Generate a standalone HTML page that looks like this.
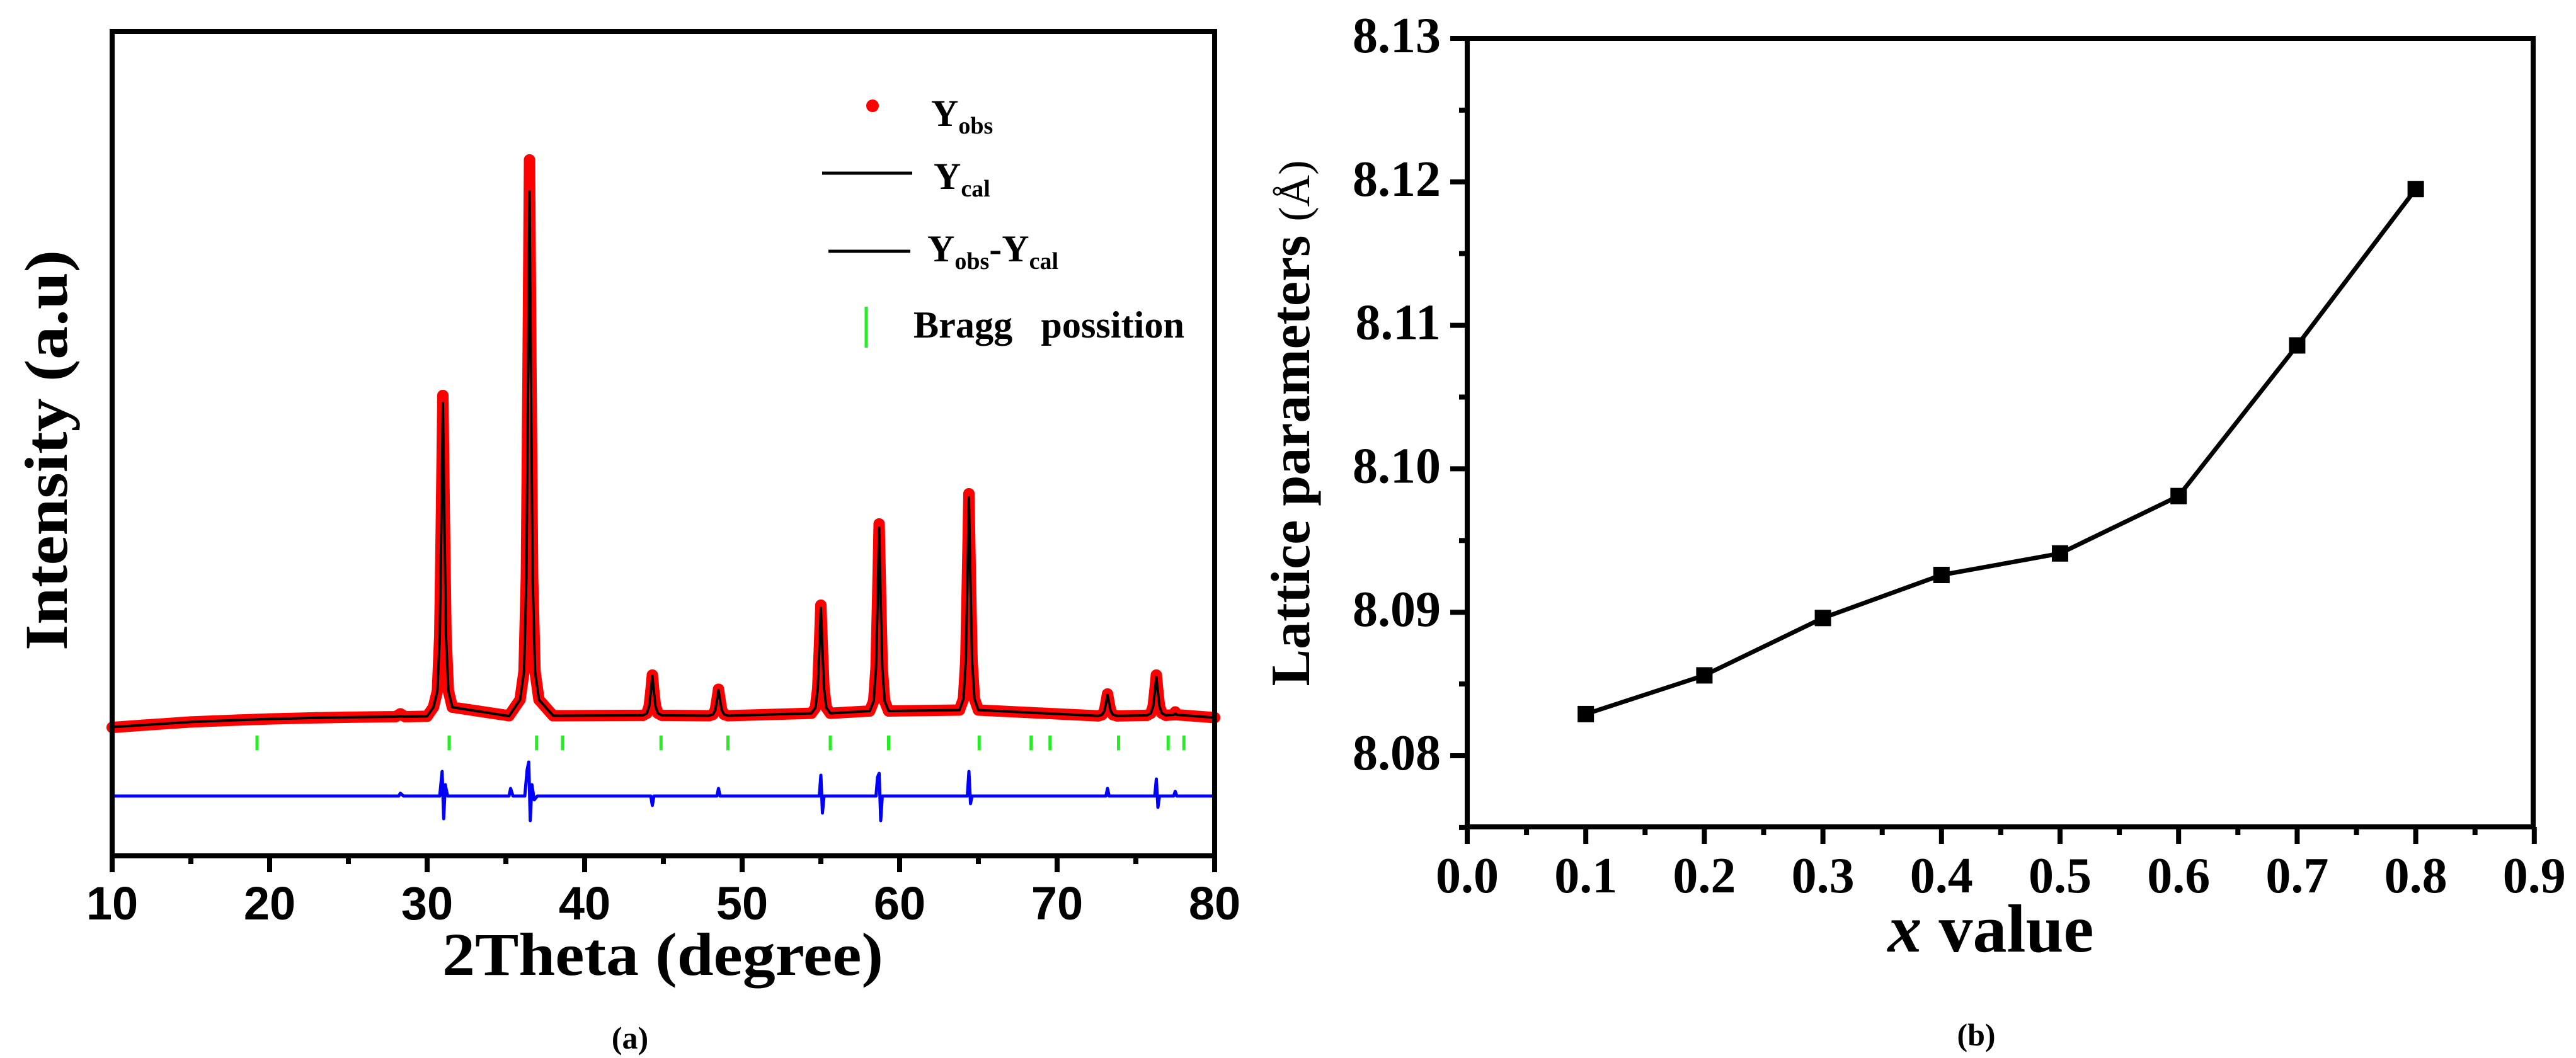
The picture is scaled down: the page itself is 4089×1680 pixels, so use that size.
<!DOCTYPE html>
<html><head><meta charset="utf-8"><style>
html,body{margin:0;padding:0;background:#fff;width:4089px;height:1680px;overflow:hidden}
svg{display:block}
text{font-family:"Liberation Serif",serif;font-weight:bold;fill:#000}
</style></head><body>
<svg id="fig" width="4089" height="1680" viewBox="0 0 4089 1680" xmlns="http://www.w3.org/2000/svg">
<g id="chartA"></g>
<g id="chartB"></g>
</svg>
<script>
// ===== Chart (a) data =====
const xrdTheta = [10,12,15,18,20,23,25,28,28.3,28.6,30,
30.4,30.65,30.8,30.9,31.0,31.1,31.2,31.35,31.6,
35.2,35.9,36.15,36.3,36.4,36.5,36.6,36.7,36.85,37.1,38,
43.7,43.95,44.1,44.2,44.3,44.4,44.5,44.65,44.9,
47.9,48.15,48.3,48.4,48.5,48.6,48.7,48.85,49.1,
54.4,54.65,54.8,54.9,55.0,55.1,55.2,55.35,55.6,
58.1,58.35,58.5,58.6,58.7,58.8,58.9,59.05,59.3,
63.8,64.05,64.2,64.3,64.4,64.5,64.6,64.75,65.0,
72.6,72.85,73.0,73.1,73.2,73.3,73.4,73.55,73.8,
75.7,75.95,76.1,76.2,76.3,76.4,76.5,76.65,76.9,
77.4,77.5,77.6,80];
const xrdObs = [-57,-45,-28,-18,-12,-6,-3,0,15,0,2,
50,136,425,1020,1700,1020,425,136,50,
5,90,240,740,1770,2947,1770,740,240,90,5,
7,18,55,130,220,130,55,18,7,
5,12,36,87,145,87,36,12,5,
18,47,148,354,590,354,148,47,18,
30,82,255,612,1020,612,255,82,30,
35,94,295,708,1180,708,295,94,35,
4,10,30,72,120,72,30,10,4,
7,18,55,132,220,132,55,18,7,
10,25,10,-5];
const xrdCalc = [-55,-44,-28,-18,-12,-6,-3,0,2,0,2,
50,136,420,1000,1660,1000,420,136,50,
3,90,240,730,1700,2780,1700,730,240,90,5,
7,18,55,130,215,130,55,18,7,
5,12,36,87,140,87,36,12,5,
18,47,148,350,575,350,148,47,18,
30,82,255,600,1000,600,255,82,30,
35,94,295,700,1160,700,295,94,35,
4,10,30,72,115,72,30,10,4,
7,18,55,130,210,130,55,18,7,
10,15,10,-5];
const diffTheta = [10,28.2,28.3,28.5,30.8,30.95,31.05,31.15,31.3,35.2,35.3,35.45,36.2,36.35,36.45,36.55,36.65,36.8,37.0,44.2,44.3,44.4,48.4,48.5,48.6,54.9,55.0,55.1,55.2,58.5,58.6,58.7,58.8,58.9,64.3,64.4,64.5,64.6,73.1,73.2,73.3,76.2,76.3,76.4,76.5,77.4,77.5,77.6,80];
const diffVal = [0,0,15,0,0,130,-120,60,0,0,40,0,0,140,180,-130,60,-20,0,0,-50,0,0,40,0,0,110,-90,0,0,100,120,-130,0,0,130,-40,0,0,40,0,0,90,-60,0,0,25,0,0];
const braggPos = [19.2,31.4,36.95,38.6,44.85,49.1,55.6,59.3,65.05,68.35,69.55,73.9,77.05,78.05];
const xTicksA = [10,20,30,40,50,60,70,80];

// ===== Chart (b) data =====
const xValues = [0.1,0.2,0.3,0.4,0.5,0.6,0.7,0.8];
const latticeValues = [8.0829,8.0856,8.0896,8.0926,8.0941,8.0981,8.1086,8.1195];
const xTicksB = ["0.0","0.1","0.2","0.3","0.4","0.5","0.6","0.7","0.8","0.9"];
const yTicksB = ["8.08","8.09","8.10","8.11","8.12","8.13"];

const NS = "http://www.w3.org/2000/svg";
function mk(parent, tag, attrs, txt){
  const e = document.createElementNS(NS, tag);
  for (const k in attrs) e.setAttribute(k, attrs[k]);
  if (txt !== undefined) e.textContent = txt;
  parent.appendChild(e);
  return e;
}

// ---------- Chart A ----------
const A = document.getElementById('chartA');
const xA = t => 178 + (t - 10) * 25;
const yA = I => 1138 - I * 0.3;
const diffOffset = -420;

let dObs = xrdTheta.map((t,i)=>(i?'L':'M')+xA(t).toFixed(1)+' '+yA(xrdObs[i]).toFixed(1)).join(' ');
let obsBand = mk(A,'path',{d:dObs,fill:'none',stroke:'#ff0000','stroke-width':18,'stroke-linejoin':'round','stroke-linecap':'round'});


xrdTheta.forEach((t,i)=>{
  const c = mk(A,'circle',{cx:xA(t),cy:yA(xrdObs[i]),r:9,fill:'#ff0000'});
  
  
});
let dCalc = xrdTheta.map((t,i)=>(i?'L':'M')+xA(t).toFixed(1)+' '+yA(xrdCalc[i]).toFixed(1)).join(' ');
let calcLine = mk(A,'path',{d:dCalc,fill:'none',stroke:'#000','stroke-width':4,'stroke-linejoin':'round'});


let dDiff = diffTheta.map((t,i)=>(i?'L':'M')+xA(t).toFixed(1)+' '+yA(diffVal[i]+diffOffset).toFixed(1)).join(' ');
let diffLine = mk(A,'path',{d:dDiff,fill:'none',stroke:'#0000ff','stroke-width':5,'stroke-linejoin':'round'});


braggPos.forEach(p=>{
  const b = mk(A,'line',{x1:xA(p),x2:xA(p),y1:yA(-100),y2:yA(-178),stroke:'#22ee22','stroke-width':5});
  
  
});
let frameA = mk(A,'rect',{x:178,y:50,width:1750,height:1309,fill:'none',stroke:'#000','stroke-width':8});


for (let t=10;t<=80;t+=5){
  const major = (t%10===0);
  mk(A,'line',{x1:xA(t),x2:xA(t),y1:1359,y2:1359+(major?26:13),stroke:'#000','stroke-width':8});
}
xTicksA.forEach(t=>{
  const l = mk(A,'text',{x:xA(t),y:1460,'text-anchor':'middle','font-size':74,style:'font-family:"Liberation Sans",sans-serif'},String(t));
  
  
});
let xtA = mk(A,'text',{x:1052,y:1548,'text-anchor':'middle','font-size':96,textLength:700,lengthAdjust:'spacingAndGlyphs'},'2Theta (degree)');


let ytA = mk(A,'text',{x:0,y:0,'text-anchor':'middle','font-size':96,textLength:636,lengthAdjust:'spacingAndGlyphs',transform:'translate(106,715) rotate(-90)'},'Intensity (a.u)');


let capA = mk(A,'text',{x:1000,y:1665,'text-anchor':'middle','font-size':50},'(a)');



const lg = mk(A,'g',{});


mk(lg,'circle',{cx:1385,cy:168,r:10,fill:'#ff0000'});
let t1 = mk(lg,'text',{x:1478,y:200,'font-size':60});
t1.innerHTML = 'Y<tspan font-size="38" dy="12">obs</tspan>';
mk(lg,'line',{x1:1305,x2:1448,y1:275,y2:275,stroke:'#000','stroke-width':5});
let t2 = mk(lg,'text',{x:1482,y:300,'font-size':60});
t2.innerHTML = 'Y<tspan font-size="38" dy="12">cal</tspan>';
mk(lg,'line',{x1:1315,x2:1445,y1:399,y2:399,stroke:'#000','stroke-width':5});
let t3 = mk(lg,'text',{x:1472,y:415,'font-size':60});
t3.innerHTML = 'Y<tspan font-size="38" dy="12">obs</tspan><tspan dy="-12">-Y</tspan><tspan font-size="38" dy="12">cal</tspan>';
mk(lg,'line',{x1:1375,x2:1375,y1:487,y2:552,stroke:'#22ee22','stroke-width':5});
mk(lg,'text',{x:1450,y:536,'font-size':60,textLength:430,lengthAdjust:'spacingAndGlyphs',style:'white-space:pre'},'Bragg   possition');

// ---------- Chart B ----------
const B = document.getElementById('chartB');
const xB = v => 2329 + v * 1882;
const yB = v => 1200 - (v - 8.08) * 22780;
let frameB = mk(B,'rect',{x:2329,y:61,width:1692,height:1252,fill:'none',stroke:'#000','stroke-width':8});


for (let i=0;i<=18;i++){
  const v=i*0.05, major=(i%2===0);
  mk(B,'line',{x1:xB(v),x2:xB(v),y1:1313,y2:1313+(major?27:13),stroke:'#000','stroke-width':8});
}
for (let i=0;i<=11;i++){
  const v=8.075+i*0.005, major=(i%2===1);
  mk(B,'line',{x1:2329,x2:2329-(major?27:13),y1:yB(v),y2:yB(v),stroke:'#000','stroke-width':8});
}
xTicksB.forEach(s=>{
  const l = mk(B,'text',{x:xB(parseFloat(s)),y:1417,'text-anchor':'middle','font-size':80},s);
  
  
});
yTicksB.forEach(s=>{
  const l = mk(B,'text',{x:2287,y:yB(parseFloat(s))+22,'text-anchor':'end','font-size':80},s);
  
  
});
let dL = xValues.map((v,i)=>(i?'L':'M')+xB(v).toFixed(1)+' '+yB(latticeValues[i]).toFixed(1)).join(' ');
let latLine = mk(B,'path',{d:dL,fill:'none',stroke:'#000','stroke-width':7,'stroke-linejoin':'round'});


xValues.forEach((v,i)=>{
  const s = mk(B,'rect',{x:xB(v)-13,y:yB(latticeValues[i])-13,width:26,height:26,fill:'#000'});
  
  
});
let xtB = mk(B,'text',{x:3160,y:1511,'text-anchor':'middle','font-size':108});
xtB.innerHTML = '<tspan font-style="italic">x</tspan> value';


let ytB = mk(B,'text',{x:0,y:0,'text-anchor':'middle','font-size':88,transform:'translate(2078,672) rotate(-90)'});
ytB.innerHTML = 'Lattice parameters <tspan font-weight="normal" font-size="70">(Å)</tspan>';


let capB = mk(B,'text',{x:3137,y:1660,'text-anchor':'middle','font-size':50},'(b)');


</script>
</body></html>
